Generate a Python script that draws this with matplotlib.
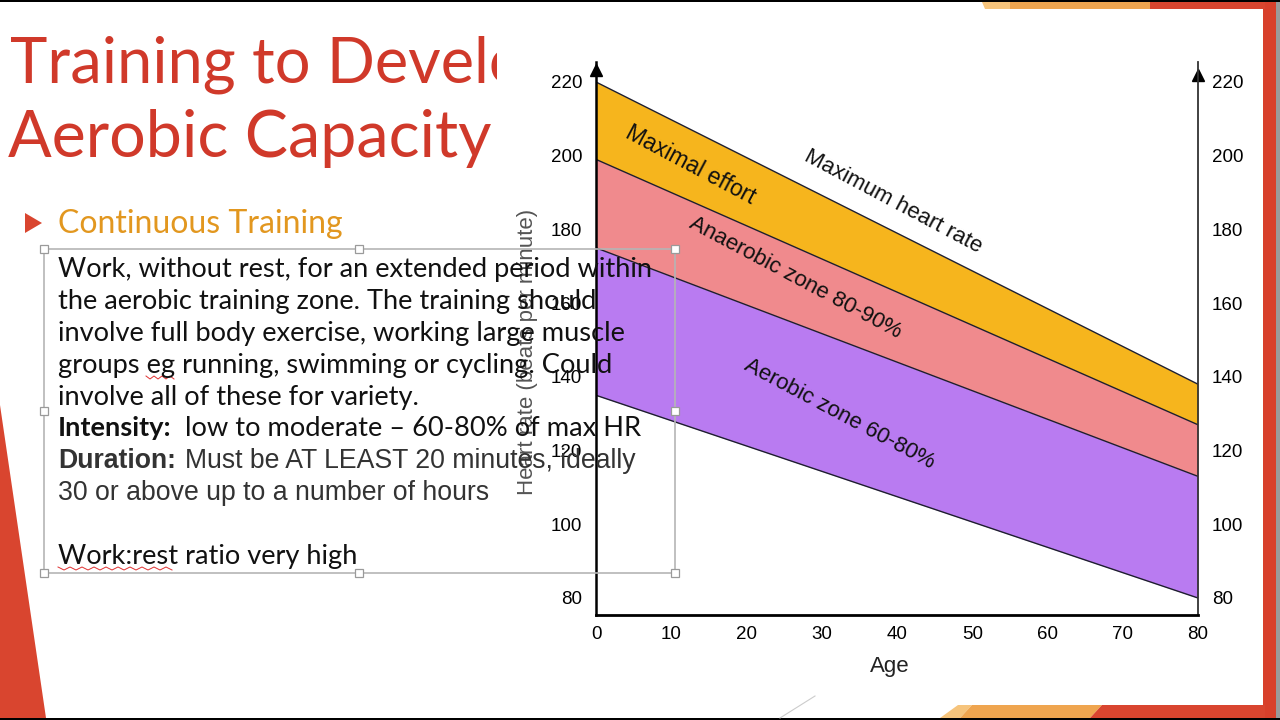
import numpy as np
import matplotlib
matplotlib.use("Agg")
import matplotlib.pyplot as plt
from matplotlib.patches import Polygon, Rectangle

# ---- chart data ----
age = [0, 80]
max_hr = [220, 138]
hr_90 = [199, 127]
hr_80 = [175, 113]
hr_60 = [135, 80]
x_ticks = [0, 10, 20, 30, 40, 50, 60, 70, 80]
y_ticks = [80, 100, 120, 140, 160, 180, 200, 220]

zone_labels = ["Maximal effort", "Maximum heart rate", "Anaerobic zone 80-90%", "Aerobic zone 60-80%"]
zone_label_pos = [(12.5, 197.5), (39.5, 187.5), (26.5, 167.0), (32.3, 130.0)]

# the title is cut off by the chart picture on the slide
title_lines = ["Training to Develo", "Aerobic Capacity"]
subtitle = "Continuous Training"
body_lines = [
    "Work, without rest, for an extended period within",
    "the aerobic training zone. The training should",
    "involve full body exercise, working large muscle",
    "groups eg running, swimming or cycling. Could",
    "involve all of these for variety.",
]

W, H = 1280, 720
fig = plt.figure(figsize=(12.8, 7.2), dpi=100)
fig.patch.set_facecolor("white")

RED = "#d9452f"
ORANGE = "#efa54f"
LORANGE = "#f6c47c"
TITLE_RED = "#d0392a"
GOLD = "#e2971f"

# ---- background slide decorations (pixel coords) ----
bg = fig.add_axes([0, 0, 1, 1], zorder=-5)
bg.set_xlim(0, W)
bg.set_ylim(H, 0)
bg.axis("off")

bg.add_patch(Polygon([(0, 405), (0, 718), (46, 718)], closed=True, color=RED, lw=0))
bg.add_patch(Rectangle((1263, 0), 13, 720, color="#d8402b", lw=0))
bg.add_patch(Rectangle((1276, 0), 4, 720, color="#9a9a9a", lw=0))
# top bars
bg.add_patch(Polygon([(982, 2), (1010, 2), (1010, 9), (985, 9)], color=LORANGE, lw=0))
bg.add_patch(Rectangle((1010, 2), 140, 7, color=ORANGE, lw=0))
bg.add_patch(Rectangle((1150, 2), 115, 7, color=RED, lw=0))
# bottom bars
bg.add_patch(Polygon([(940, 718), (958, 705), (972, 705), (960, 718)], color=LORANGE, lw=0))
bg.add_patch(Polygon([(960, 718), (972, 705), (1102, 705), (1090, 718)], color=ORANGE, lw=0))
bg.add_patch(Polygon([(1090, 718), (1102, 705), (1265, 705), (1265, 718)], color=RED, lw=0))
bg.plot([780, 815], [718, 696], color="#cccccc", lw=0.8)
# black video borders
bg.add_patch(Rectangle((0, 0), W, 2, color="black", lw=0))
bg.add_patch(Rectangle((0, 718), W, 2, color="black", lw=0))

# ---- title, clipped by the chart picture ----
tax = fig.add_axes([0, 0, 497 / W, 1], zorder=-4)
tax.set_xlim(0, 497)
tax.set_ylim(H, 0)
tax.axis("off")
tax.text(10, 83, title_lines[0], fontsize=45.5, family="Lato", color=TITLE_RED,
         va="baseline", ha="left", clip_on=True)
tax.text(8, 157, title_lines[1], fontsize=46.5, family="Lato", color=TITLE_RED,
         va="baseline", ha="left", clip_on=True)

bg.add_patch(Polygon([(25, 213), (25, 233), (42, 223)], color=RED, lw=0))
bg.text(58, 233, subtitle, fontsize=23, family="Lato", color=GOLD, va="baseline", ha="left")

# ---- the chart ----
x0, x1 = 596, 1198
ybot, ytop = 615, 62
ax = fig.add_axes([x0 / W, (H - ybot) / H, (x1 - x0) / W, (ybot - ytop) / H], zorder=1)
ax.set_facecolor("none")
px_per_unit = (598 - 82) / 140
ax.set_xlim(0, 80)
ax.set_ylim(80 - (ybot - 598) / px_per_unit, 220 + (82 - ytop) / px_per_unit)

ax.fill_between(age, hr_90, max_hr, color="#f6b51d", lw=0)
ax.fill_between(age, hr_80, hr_90, color="#f08a8d", lw=0)
ax.fill_between(age, hr_60, hr_80, color="#b97bf1", lw=0)
for s in (max_hr, hr_90, hr_80, hr_60):
    ax.plot(age, s, color="#1e1e2e", lw=1.0)

ax.spines["top"].set_visible(False)
ax.spines["left"].set_linewidth(1.8)
ax.spines["bottom"].set_linewidth(2.0)
ax.spines["right"].set_linewidth(1.3)
ax.spines["right"].set_color("#333333")
ax.plot([0], [223.3], marker="^", ms=9, color="black", clip_on=False)
ax.plot([80], [222.0], marker="^", ms=9, color="black", clip_on=False)

ax.set_xticks(x_ticks)
ax.set_yticks(y_ticks)
ax.tick_params(axis="both", length=0, labelsize=13.5)
ax.tick_params(axis="y", labelright=True, pad=10)
ax.tick_params(axis="x", pad=8)
for lab in ax.get_xticklabels() + ax.get_yticklabels():
    lab.set_family("Liberation Sans")
for lab in ax.yaxis.get_ticklabels(which="major"):
    lab.set_family("Liberation Sans")

ax.set_xlabel("Age", fontsize=16, family="Liberation Sans", color="#222222")
ax.xaxis.set_label_coords(0.488, -0.075)
ax.set_ylabel("Heart rate (beats per minute)", fontsize=16, family="Liberation Sans", color="#555555")
ax.yaxis.set_label_coords(-0.096, 0.475)

label_sizes = [16.5, 16, 16, 16]
for lab, (lx, ly), fs in zip(zone_labels, zone_label_pos, label_sizes):
    ax.text(lx, ly, lab, fontsize=fs, family="Liberation Sans", color="#111111",
            rotation=-28, rotation_mode="anchor", ha="center", va="center")

# ---- text box on top ----
ov = fig.add_axes([0, 0, 1, 1], zorder=5)
ov.set_xlim(0, W)
ov.set_ylim(H, 0)
ov.axis("off")
ov.patch.set_alpha(0)

ov.add_patch(Rectangle((44, 249), 631, 324, fill=False, edgecolor="#b5b5b5", lw=1.2))
for hx, hy in [(44, 249), (359, 249), (675, 249), (44, 411), (675, 411),
               (44, 573), (359, 573), (675, 573)]:
    ov.add_patch(Rectangle((hx - 4, hy - 4), 8, 8, facecolor="white",
                           edgecolor="#9a9a9a", lw=0.9))

BODY_FS = 19.6
base = 277
for i, line in enumerate(body_lines):
    ov.text(58, base + 32 * i, line, fontsize=BODY_FS, family="Lato", color="#111111",
            va="baseline", ha="left")
ov.text(58, 436, "Intensity:", fontsize=BODY_FS, family="Lato", weight="bold",
        color="#111111", va="baseline", ha="left")
ov.text(185, 436, "low to moderate – 60-80% of max HR", fontsize=BODY_FS, family="Lato",
        color="#111111", va="baseline", ha="left")
ov.text(58, 468, "Duration:", fontsize=19.2, family="Liberation Sans", weight="bold",
        color="#333333", va="baseline", ha="left")
ov.text(185, 468, "Must be AT LEAST 20 minutes, ideally", fontsize=19.2,
        family="Liberation Sans", color="#333333", va="baseline", ha="left")
ov.text(58, 500, "30 or above up to a number of hours", fontsize=19.2,
        family="Liberation Sans", color="#333333", va="baseline", ha="left")
ov.text(58, 564, "Work:rest ratio very high", fontsize=BODY_FS, family="Lato",
        color="#111111", va="baseline", ha="left")
# spell-check squiggles
ov.plot([146, 150, 154, 158, 162, 166, 170, 174], [376, 379, 376, 379, 376, 379, 376, 379],
        color="#e03030", lw=0.7)
ov.plot([58, 64, 70, 76, 82, 88, 94, 100, 106, 112, 118, 124, 130, 136, 142, 148, 154, 160, 166, 172],
        [567, 570, 567, 570, 567, 570, 567, 570, 567, 570, 567, 570, 567, 570, 567, 570, 567, 570, 567, 570],
        color="#e03030", lw=0.7)

fig.savefig("out.png", dpi=100)
